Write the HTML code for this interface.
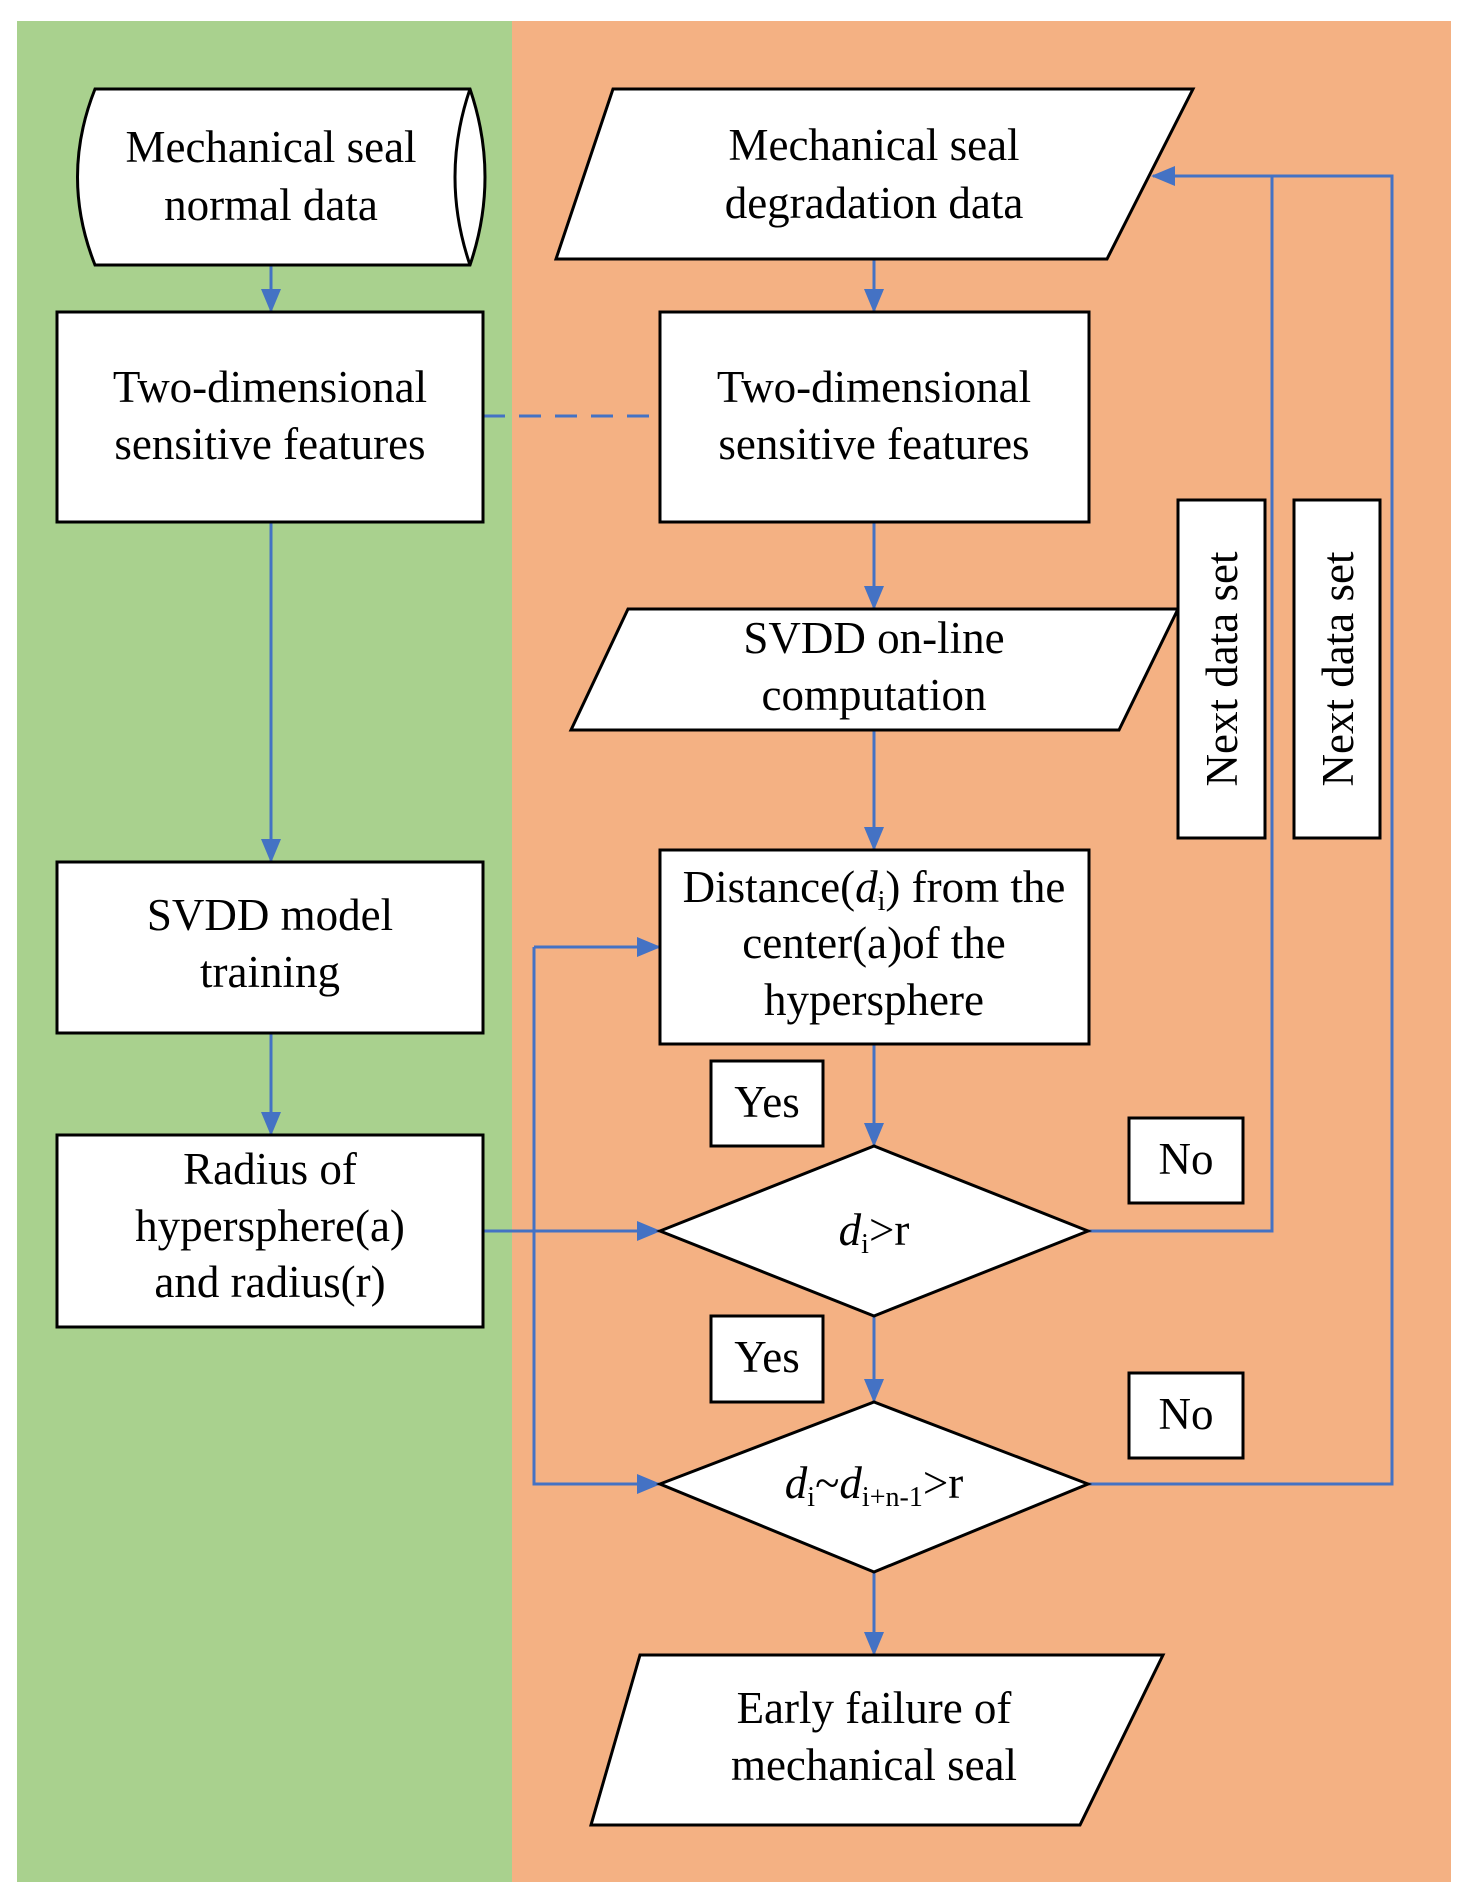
<!DOCTYPE html>
<html><head><meta charset="utf-8"><style>html,body{margin:0;padding:0;background:#fff}svg{display:block}</style></head><body>
<svg width="1457" height="1897" viewBox="0 0 1457 1897" xmlns="http://www.w3.org/2000/svg" font-family="'Liberation Serif', serif" font-size="45" text-anchor="middle">
<defs>
<marker id="b" markerWidth="24" markerHeight="24" refX="22" refY="12" orient="auto" markerUnits="userSpaceOnUse" viewBox="0 0 24 24"><path d="M0,2 L24,12 L0,22 z" fill="#4472c4"/></marker></defs>
<rect x="17" y="21" width="495" height="1861" fill="#a9d18e"/>
<rect x="512" y="21" width="939" height="1861" fill="#f4b183"/>
<g fill="none" stroke="#4472c4" stroke-width="3">
<line x1="271" y1="266" x2="271" y2="311" marker-end="url(#b)"/>
<line x1="874" y1="259" x2="874" y2="311" marker-end="url(#b)"/>
<line x1="483" y1="416" x2="660" y2="416" stroke-dasharray="22,14"/>
<line x1="271" y1="522" x2="271" y2="861" marker-end="url(#b)"/>
<line x1="271" y1="1033" x2="271" y2="1134" marker-end="url(#b)"/>
<line x1="874" y1="522" x2="874" y2="608" marker-end="url(#b)"/>
<line x1="874" y1="730" x2="874" y2="849" marker-end="url(#b)"/>
<line x1="874" y1="1044" x2="874" y2="1145" marker-end="url(#b)"/>
<line x1="874" y1="1316" x2="874" y2="1401" marker-end="url(#b)"/>
<line x1="874" y1="1572" x2="874" y2="1654" marker-end="url(#b)"/>
<line x1="483" y1="1231" x2="659" y2="1231" marker-end="url(#b)"/>
<polyline points="1088,1231 1272,1231 1272,176 1153,176" marker-end="url(#b)"/>
<polyline points="1088,1484 1392,1484 1392,176 1272,176"/>
<line x1="534" y1="947" x2="659" y2="947" marker-end="url(#b)"/>
<polyline points="534,947 534,1484 659,1484" marker-end="url(#b)"/>
</g>
<g fill="#fff" stroke="#000" stroke-width="3">
<path d="M95,89 L470,89 Q500,177 470,265 L95,265 Q60,177 95,89 Z"/>
<path d="M470,89 Q440,177 470,265" fill="none"/>
<polygon points="613,89 1193,89 1107,259 556,259"/>
<rect x="57" y="312" width="426" height="210"/>
<rect x="660" y="312" width="429" height="210"/>
<polygon points="628,609 1178,609 1119,730 571,730"/>
<rect x="1178" y="500" width="87" height="338"/>
<rect x="1294" y="500" width="86" height="338"/>
<rect x="660" y="850" width="429" height="194"/>
<rect x="57" y="862" width="426" height="171"/>
<rect x="57" y="1135" width="426" height="192"/>
<rect x="711" y="1061" width="112" height="85"/>
<rect x="711" y="1316" width="112" height="86"/>
<rect x="1129" y="1118" width="114" height="85"/>
<rect x="1129" y="1373" width="114" height="85"/>
<polygon points="660,1231 874,1146 1088,1231 874,1316"/>
<polygon points="660,1484 874,1402 1088,1484 874,1572"/>
<polygon points="640,1655 1163,1655 1080,1825 591,1825"/>
</g>
<g fill="#000">
<text x="271" y="162">Mechanical seal</text><text x="271" y="220">normal data</text>
<text x="874" y="160">Mechanical seal</text><text x="874" y="218">degradation data</text>
<text x="270" y="402">Two-dimensional</text><text x="270" y="459">sensitive features</text>
<text x="874" y="402">Two-dimensional</text><text x="874" y="459">sensitive features</text>
<text x="874" y="653">SVDD on-line</text><text x="874" y="710">computation</text>
<text x="874" y="902">Distance(<tspan font-style="italic">d</tspan><tspan font-size="28" dy="8">i</tspan><tspan dy="-8">) from the</tspan></text>
<text x="874" y="958">center(a)of the</text><text x="874" y="1015">hypersphere</text>
<text x="270" y="930">SVDD  model</text><text x="270" y="987">training</text>
<text x="270" y="1184">Radius of</text><text x="270" y="1241">hypersphere(a)</text><text x="270" y="1297">and radius(r)</text>
<text x="767" y="1117">Yes</text><text x="767" y="1372">Yes</text>
<text x="1186" y="1174">No</text><text x="1186" y="1429">No</text>
<text x="874" y="1245"><tspan font-style="italic">d</tspan><tspan font-size="28" dy="8">i</tspan><tspan dy="-8">&gt;r</tspan></text>
<text x="874" y="1498"><tspan font-style="italic">d</tspan><tspan font-size="28" dy="8">i</tspan><tspan dy="-8">~</tspan><tspan font-style="italic">d</tspan><tspan font-size="28" dy="8">i+n-1</tspan><tspan dy="-8">&gt;r</tspan></text>
<text x="874" y="1723">Early failure of</text><text x="874" y="1780">mechanical seal</text>
<text transform="translate(1237,669) rotate(-90)">Next data set</text>
<text transform="translate(1353,669) rotate(-90)">Next data set</text>
</g>
</svg>
</body></html>
